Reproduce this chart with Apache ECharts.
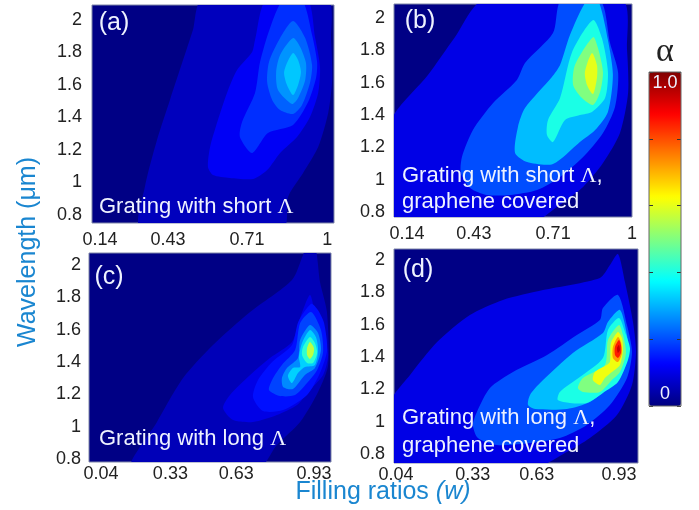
<!DOCTYPE html>
<html><head><meta charset="utf-8">
<style>html,body{margin:0;padding:0;background:#fff}#c{width:699px;height:510px;filter:blur(0.45px)}</style>
<script src="https://cdn.jsdelivr.net/npm/echarts@6/dist/echarts.min.js"></script>
</head><body><div id="c"></div>
<script>
// Tick labels
const wavelengthTicks = [0.8, 1, 1.2, 1.4, 1.6, 1.8, 2];
const shortTicks = [0.14, 0.43, 0.71, 1];
const longTicks = [0.04, 0.33, 0.63, 0.93];
const barTicks = [0, 0.2, 0.4, 0.6, 0.8, 1];
const jetColors = ['#000080','#0000ff','#0080ff','#00ffff','#80ff80','#ffff00','#ff8000','#ff0000','#800000'];

// Absorption level of each filled contour, lowest first
const levelsA = [0.06, 0.115, 0.17, 0.22, 0.27, 0.32];
const levelsB = [0.1, 0.2, 0.31, 0.4, 0.5, 0.6];
const levelsC = [0.055, 0.1, 0.14, 0.19, 0.26, 0.33, 0.42, 0.56];
const levelsD = [0.1, 0.2, 0.31, 0.4, 0.5, 0.61, 0.72, 0.85, 0.93];

// Contour outlines as [filling ratio, wavelength]
const contoursA = [
 [[.526,2.123],[.492,1.938],[.405,1.508],[.356,1.262],[.310,.972],[.295,.72],[.833,.72],[.852,.911],[.909,1.058],[.966,1.218],[1.004,1.428],[1.019,1.631],[1.015,1.877],[1.0,2.123]],
 [[.769,2.123],[.727,1.877],[.716,1.803],[.659,1.692],[.621,1.551],[.583,1.366],[.557,1.218],[.549,1.095],[.568,1.046],[.632,1.028],[.720,1.022],[.773,1.077],[.822,1.182],[.886,1.28],[.935,1.403],[.966,1.551],[.973,1.711],[.954,1.895],[.924,2.123]],
 [[.833,2.123],[.784,1.951],[.746,1.742],[.727,1.551],[.678,1.372],[.670,1.28],[.716,1.182],[.776,1.305],[.871,1.354],[.928,1.495],[.958,1.643],[.962,1.742],[.943,1.908],[.905,2.123]],
 [[.871,1.994],[.822,1.889],[.780,1.742],[.773,1.618],[.792,1.508],[.822,1.446],[.871,1.422],[.905,1.477],[.935,1.612],[.943,1.723],[.917,1.889]],
 [[.871,1.889],[.822,1.785],[.807,1.68],[.814,1.569],[.867,1.483],[.890,1.52],[.917,1.631],[.920,1.735],[.898,1.834]],
 [[.871,1.797],[.848,1.735],[.837,1.674],[.848,1.6],[.871,1.538],[.890,1.6],[.901,1.68],[.890,1.754]]
];
const contoursB = [
 [[.075,1.351],[.220,1.647],[.323,1.882],[.431,2.111],[.962,2.111],[.981,1.802],[.985,1.536],[.954,1.289],[.889,1.103],[.813,.955],[.713,.831],[.622,.738],[.075,.738]],
 [[.729,2.111],[.698,1.907],[.591,1.722],[.560,1.617],[.469,1.474],[.392,1.307],[.350,1.14],[.346,1.041],[.381,.949],[.446,.905],[.534,.905],[.637,.936],[.725,1.017],[.813,1.14],[.889,1.289],[.935,1.45],[.947,1.66],[.916,1.845],[.878,2.111]],
 [[.828,2.111],[.763,1.895],[.725,1.709],[.694,1.635],[.591,1.443],[.564,1.326],[.553,1.165],[.599,1.109],[.698,1.097],[.801,1.233],[.859,1.307],[.908,1.419],[.927,1.647],[.908,1.864],[.870,2.111]],
 [[.851,1.988],[.771,1.79],[.725,1.505],[.679,1.369],[.675,1.276],[.698,1.233],[.744,1.369],[.801,1.4],[.847,1.419],[.897,1.505],[.908,1.666],[.885,1.876]],
 [[.851,1.882],[.782,1.709],[.775,1.586],[.809,1.505],[.851,1.462],[.878,1.542],[.889,1.666],[.870,1.814]],
 [[.847,1.784],[.820,1.666],[.828,1.586],[.851,1.53],[.866,1.629],[.866,1.709]]
];
const contoursC = [
 [[.165,.732],[.274,1.029],[.383,1.301],[.508,1.505],[.663,1.709],[.838,1.907],[.884,2.062],[.901,2.118],[.934,2.118],[.955,1.895],[.984,1.709],[.989,1.382],[.947,1.215],[.872,1.029],[.775,.887],[.692,.732]],
 [[.55,1.116],[.579,1.196],[.663,1.32],[.746,1.425],[.838,1.524],[.872,1.672],[.913,1.814],[.934,1.709],[.968,1.586],[.989,1.443],[.968,1.32],[.905,1.215],[.859,1.134],[.775,1.072],[.675,1.029],[.592,1.041]],
 [[.918,1.76],[.865,1.65],[.838,1.505],[.755,1.4],[.696,1.289],[.675,1.184],[.717,1.097],[.801,1.103],[.901,1.196],[.955,1.332],[.985,1.474],[.972,1.641],[.947,1.72]],
 [[.918,1.709],[.872,1.641],[.851,1.474],[.796,1.382],[.759,1.301],[.742,1.227],[.788,1.19],[.851,1.196],[.901,1.27],[.943,1.351],[.968,1.462],[.959,1.598]],
 [[.913,1.629],[.872,1.536],[.863,1.425],[.817,1.363],[.796,1.301],[.801,1.246],[.842,1.233],[.892,1.32],[.934,1.363],[.959,1.474],[.947,1.579]],
 [[.913,1.598],[.880,1.518],[.867,1.431],[.872,1.369],[.842,1.363],[.821,1.314],[.838,1.27],[.863,1.332],[.892,1.369],[.934,1.382],[.947,1.474],[.938,1.555]],
 [[.913,1.555],[.884,1.493],[.880,1.443],[.901,1.394],[.926,1.394],[.943,1.456],[.934,1.518]],
 [[.913,1.524],[.901,1.487],[.901,1.443],[.913,1.419],[.926,1.443],[.930,1.487]]
];
const contoursD = [
 [[.016,1.116],[.096,1.289],[.204,1.493],[.335,1.66],[.467,1.753],[.627,1.814],[.854,1.889],[.894,1.969],[.926,2.037],[.954,1.864],[.986,1.617],[.998,1.431],[.982,1.227],[.922,1.041],[.814,.899],[.722,.813],[.575,.701],[.016,.701]],
 [[.347,.98],[.363,1.06],[.415,1.208],[.507,1.307],[.643,1.412],[.762,1.536],[.854,1.629],[.866,1.703],[.926,1.784],[.962,1.598],[.982,1.431],[.962,1.27],[.894,1.103],[.802,.98],[.694,.899],[.575,.868],[.443,.856],[.367,.899]],
 [[.934,1.691],[.886,1.617],[.866,1.549],[.746,1.425],[.615,1.239],[.575,1.165],[.567,1.103],[.595,1.079],[.722,1.079],[.814,1.122],[.886,1.208],[.942,1.307],[.966,1.431],[.962,1.536]],
 [[.930,1.641],[.886,1.567],[.866,1.394],[.774,1.276],[.694,1.184],[.686,1.134],[.734,1.116],[.802,1.116],[.866,1.178],[.926,1.245],[.966,1.382],[.974,1.456],[.954,1.555]],
 [[.930,1.598],[.886,1.505],[.874,1.351],[.786,1.27],[.766,1.208],[.786,1.184],[.854,1.184],[.902,1.258],[.934,1.307],[.958,1.425],[.946,1.536]],
 [[.926,1.555],[.898,1.487],[.894,1.369],[.874,1.344],[.834,1.307],[.826,1.258],[.854,1.227],[.874,1.27],[.902,1.307],[.934,1.351],[.946,1.443],[.942,1.518]],
 [[.926,1.524],[.906,1.462],[.906,1.394],[.926,1.369],[.942,1.425],[.938,1.493]],
 [[.93,1.505],[.914,1.462],[.914,1.412],[.926,1.394],[.938,1.425],[.938,1.474]],
 [[.93,1.474],[.922,1.456],[.926,1.425],[.934,1.443]]
];

const panels = [
 {levels: levelsA, contours: contoursA, ticks: shortTicks, rect: [92,5,242,218], xr: [.11,1.026], yr: [.751,2.092], nudge: [0,-8.6,-3.5,0], xm: 8, ym: 10},
 {levels: levelsB, contours: contoursB, ticks: shortTicks, rect: [394,4,238,213], xr: [.0903,1], yr: [.769,2.087], nudge: [0,-9,-3,0], xm: 8, ym: 9},
 {levels: levelsC, contours: contoursC, ticks: longTicks, rect: [89,253,242,209], xr: [-.01,1.001], yr: [.782,2.074], nudge: [0,0,-6,0], xm: 3, ym: 8},
 {levels: levelsD, contours: contoursD, ticks: longTicks, rect: [394,249,244,214], xr: [.032,1.006], yr: [.745,2.068], nudge: [0,4,-7,0], xm: 3, ym: 9}
];

const tickFont = {fontFamily: 'Liberation Sans', fontSize: 18, color: '#222'};
const grids = [], xAxes = [], yAxes = [], series = [];
panels.forEach((p, i) => {
  grids.push({left: p.rect[0], top: p.rect[1], width: p.rect[2], height: p.rect[3], show: true,
    backgroundColor: '#000085', borderColor: '#7f86a8', borderWidth: 1});
  const rich = {};
  p.ticks.forEach((t, k) => {
    const n = p.nudge[k];
    rich['t' + k] = Object.assign({}, tickFont, {padding: n < 0 ? [0, -2*n, 0, 0] : [0, 0, 0, 2*n]});
  });
  xAxes.push({gridIndex: i, type: 'value', min: p.xr[0], max: p.xr[1],
    axisLine: {show: false}, axisTick: {show: false}, splitLine: {show: false},
    axisLabel: Object.assign({}, tickFont, {margin: p.xm, customValues: p.ticks, hideOverlap: false, rich,
      formatter: v => { const k = p.ticks.indexOf(v); return '{t' + k + '|' + v + '}'; }})});
  yAxes.push({gridIndex: i, type: 'value', min: p.yr[0], max: p.yr[1],
    axisLine: {show: false}, axisTick: {show: false}, splitLine: {show: false},
    axisLabel: Object.assign({}, tickFont, {margin: p.ym, customValues: wavelengthTicks, hideOverlap: false,
      formatter: v => String(v)})});
  series.push({
    type: 'custom', coordinateSystem: 'cartesian2d', xAxisIndex: i, yAxisIndex: i, clip: true, silent: true,
    data: p.levels.map((lv, k) => [lv, k]),
    encode: {x: 0, y: 1},
    renderItem(params, api) {
      const pts = p.contours[api.value(1)].map(q => api.coord(q));
      return {type: 'polygon', shape: {points: pts, smooth: 0.25}, style: {fill: api.visual('color')}};
    }
  });
});

// Colour bar axis, drawn over the visual map
grids.push({left: 649, top: 72, width: 32, height: 334});
xAxes.push({gridIndex: 4, type: 'value', show: false, min: 0, max: 1});
const barAxis = {gridIndex: 4, type: 'value', min: 0, max: 1, interval: 0.2, z: 10, splitLine: {show: false},
  axisLine: {show: false}, axisLabel: {show: false},
  axisTick: {show: true, inside: true, length: 4, lineStyle: {color: '#333', width: 1}},
  data: barTicks};
yAxes.push(Object.assign({}, barAxis, {position: 'left'}), Object.assign({}, barAxis, {position: 'right'}));

const blue = '#1a86d0';
const white = '#eef2ff';
const captionRich = {
  s: {fill: white, font: '22px "Liberation Sans"'},
  g: {fill: white, font: '22px "Liberation Serif"'}
};
const label = (text, x, y) => ({type: 'text', x, y, z: 20, silent: true,
  style: {text, rich: captionRich, textAlign: 'left', textVerticalAlign: 'middle'}});
const tag = (text, x, y) => ({type: 'text', x, y, z: 20, silent: true,
  style: {text, fill: white, font: '25px "Liberation Sans"', textAlign: 'center', textVerticalAlign: 'middle'}});

const graphic = [
  tag('(a)', 114, 23), tag('(b)', 420, 21), tag('(c)', 109, 277), tag('(d)', 418, 270),
  label('{s|Grating with short }{g|Λ}', 99, 207),
  label('{s|Grating with short }{g|Λ}{s|,}', 402, 176),
  label('{s|graphene covered}', 402, 202),
  label('{s|Grating with long }{g|Λ}', 99, 439),
  label('{s|Grating with long }{g|Λ}{s|,}', 402, 418),
  label('{s|graphene covered}', 402, 446),
  {type: 'text', x: 28, y: 252, rotation: Math.PI/2, z: 20, silent: true,
   style: {text: 'Wavelength (μm)', fill: blue, font: '25px "Liberation Sans"', textAlign: 'center', textVerticalAlign: 'middle'}},
  {type: 'text', x: 383, y: 492, z: 20, silent: true,
   style: {text: '{a|Filling ratios }{b|(w)}', textAlign: 'center', textVerticalAlign: 'middle',
     rich: {a: {fill: blue, font: '25px "Liberation Sans"'}, b: {fill: blue, font: 'italic 25px "Liberation Sans"'}}}},
  {type: 'text', x: 665, y: 52, z: 20, silent: true,
   style: {text: 'α', fill: '#222', font: '34px "Liberation Serif"', textAlign: 'center', textVerticalAlign: 'middle'}},
  {type: 'text', x: 665, y: 83, z: 20, silent: true,
   style: {text: '1.0', fill: white, font: '18px "Liberation Sans"', textAlign: 'center', textVerticalAlign: 'middle'}},
  {type: 'text', x: 665, y: 394, z: 20, silent: true,
   style: {text: '0', fill: white, font: '18px "Liberation Sans"', textAlign: 'center', textVerticalAlign: 'middle'}},
  {type: 'rect', z: 19, silent: true, shape: {x: 649, y: 72, width: 32, height: 334},
   style: {fill: 'none', stroke: '#666', lineWidth: 1}}
];

const chart = echarts.init(document.getElementById('c'), null, {renderer: 'canvas'});
chart.setOption({
  animation: false, backgroundColor: '#fff',
  grid: grids, xAxis: xAxes, yAxis: yAxes, series,
  visualMap: {type: 'continuous', min: 0, max: 1, dimension: 0, seriesIndex: [0,1,2,3],
    left: 649, top: 72, itemWidth: 32, itemHeight: 334, padding: 0, calculable: false, realtime: false,
    text: null, showLabel: false, hoverLink: false, inRange: {color: jetColors}},
  graphic
});
</script></body></html>
